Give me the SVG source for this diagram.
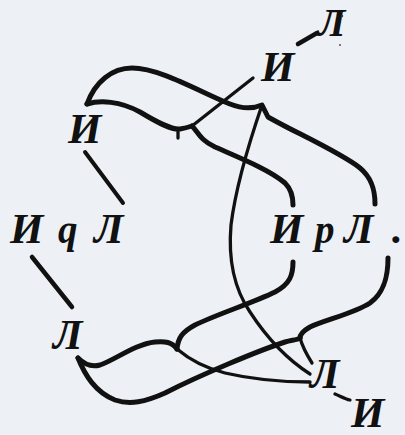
<svg xmlns="http://www.w3.org/2000/svg" width="405" height="435" viewBox="0 0 405 435">
<style>
.t{font-family:"Liberation Serif","Times New Roman",serif;font-weight:bold;font-style:italic;font-size:43px;fill:#111}
.s{font-family:"Liberation Serif","Times New Roman",serif;font-weight:bold;font-style:italic;font-size:39px;fill:#111}
.k{fill:none;stroke:#111;stroke-width:5;stroke-linecap:round;stroke-linejoin:round}
.m{fill:none;stroke:#111;stroke-width:3.3;stroke-linecap:round;stroke-linejoin:round}
</style>
<rect width="405" height="435" fill="#edf0f4"/>
<g id="connectors">
<path class="k" d="M87,104 C95,82 112,68 132,68 C160,68 200,92 230,104 C245,110 255,108 262,105 L268,117 C290,130 340,152 360,168 C372,178 375,190 375,204"/>
<path class="k" d="M87,104 C100,100 120,101 140,112 C160,124 172,130 180,129 C186,128 189,127 192,126"/>
<path class="m" d="M178,129 L178,138"/>
<path class="k" d="M192,126 C198,132 200,140 215,147 C240,158 270,170 285,183 C292,190 293,198 293,205"/>
<path class="m" d="M192,126 L253,78"/>
<path class="m" d="M262,105 C250,140 236,185 231,225 C228,260 235,290 250,312 C265,335 285,358 310,374"/>
<path class="k" d="M298,44 L317,33" style="stroke-width:4.5"/>
<path class="m" d="M85,152 L123,203" style="stroke-width:4"/>
<path class="m" d="M32,257 L72,307" style="stroke-width:4.5"/>
<path class="k" d="M293,262 C293,275 290,284 275,292 C255,302 215,315 195,325 C182,332 178,338 177,349"/>
<path class="k" d="M177,349 C172,342 165,341 155,342 C135,344 115,360 100,365 C93,367 86,366 78,358"/>
<path class="k" d="M78,358 C85,375 95,392 115,400 C130,405 145,402 165,393 C200,375 260,350 285,342 C292,340 297,340 300,338"/>
<path class="m" d="M177,349 C190,360 205,368 225,373 C255,380 285,382 310,382"/>
<path class="k" d="M388,258 C388,275 385,292 370,303 C355,313 325,320 310,327 C303,331 300,335 300,338"/>
<path class="m" d="M300,338 C302,345 305,352 312,363"/>
<path class="m" d="M335,394 C340,396 345,399 350,400"/>
</g>
<g id="n-top-L"><text class="t" x="318" y="36" style="font-size:40px">Л</text><circle cx="342" cy="16" r="1.2" fill="#333"/><circle cx="340" cy="45" r="1" fill="#555"/></g>
<g id="n-top-I"><text class="t" x="261" y="81">И</text></g>
<g id="n-left-I"><text class="t" x="68" y="143">И</text></g>
<g id="n-IqL"><text class="t" x="10" y="243">И</text><text class="s" x="58" y="243">q</text><text class="t" x="94" y="243">Л</text></g>
<g id="n-IpL"><text class="t" x="270" y="243">И</text><text class="s" x="315" y="243">p</text><text class="t" x="344" y="243">Л</text><text class="t" x="392" y="243">.</text></g>
<g id="n-low-L"><text class="t" x="53" y="349">Л</text></g>
<g id="n-low-R-L"><text class="t" x="310" y="388">Л</text></g>
<g id="n-bottom-I"><text class="t" x="351" y="427">И</text></g>
</svg>
